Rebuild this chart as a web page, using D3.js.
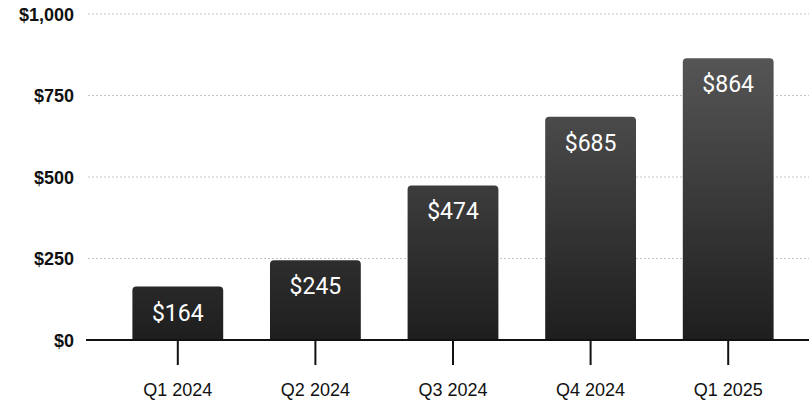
<!DOCTYPE html>
<html>
<head>
<meta charset="utf-8">
<script src="https://cdn.jsdelivr.net/npm/d3@7"></script>
<style>
  body { margin: 0; background: #fff; }
  svg { display: block; }
</style>
</head>
<body>
<div id="chart"></div>
<script>
// Quarterly values
const quarters = ['Q1 2024', 'Q2 2024', 'Q3 2024', 'Q4 2024', 'Q1 2025'];
const revenue = [164, 245, 474, 685, 864];
const yTicks = [0, 250, 500, 750, 1000];

const width = 809;
const height = 404;

const svg = d3.select('#chart')
    .append('svg')
    .attr('width', width)
    .attr('height', height);

const x = d3.scaleBand()
    .domain(quarters)
    .range([109, 797])
    .paddingInner(0.34)
    .paddingOuter(0.17);

const y = d3.scaleLinear()
    .domain([0, 1000])
    .range([340, 14]);

// Bar shading: one gradient over the plot, dark at the baseline
const defs = svg.append('defs');
const grad = defs.append('linearGradient')
    .attr('id', 'barFill')
    .attr('gradientUnits', 'userSpaceOnUse')
    .attr('x1', 0).attr('y1', y(1000))
    .attr('x2', 0).attr('y2', y(0));
grad.append('stop').attr('offset', '0%').attr('stop-color', '#5e5e5e');
grad.append('stop').attr('offset', '100%').attr('stop-color', '#1e1e1e');

// Gridlines
svg.append('g')
    .selectAll('line')
    .data(yTicks.filter(d => d > 0))
    .join('line')
    .attr('x1', 88)
    .attr('x2', width)
    .attr('y1', d => y(d))
    .attr('y2', d => y(d))
    .attr('stroke', '#c4c4c4')
    .attr('stroke-width', 1)
    .attr('stroke-dasharray', '2,2');

// Y labels
const yAxis = d3.axisLeft(y)
    .tickValues(yTicks)
    .tickSize(0)
    .tickPadding(0)
    .tickFormat(d => '$' + d3.format(',')(d));

svg.append('g')
    .attr('transform', 'translate(74,0)')
    .call(yAxis)
    .call(g => g.select('.domain').remove())
    .selectAll('text')
    .attr('font-family', 'Liberation Sans, Arial, sans-serif')
    .attr('font-size', '18px')
    .attr('font-weight', 'bold')
    .attr('fill', '#111')
    .attr('dy', '0.35em');

const rows = quarters.map((q, i) => ({ q, v: revenue[i] }));

// Bars with rounded top corners
const r = 4;
svg.append('g')
    .selectAll('path')
    .data(rows)
    .join('path')
    .attr('fill', 'url(#barFill)')
    .attr('d', d => {
        const x0 = x(d.q), w = x.bandwidth();
        const y0 = y(d.v), y1 = y(0);
        return `M${x0},${y1}V${y0 + r}Q${x0},${y0} ${x0 + r},${y0}` +
            `H${x0 + w - r}Q${x0 + w},${y0} ${x0 + w},${y0 + r}V${y1}Z`;
    });

// Value labels inside bars
svg.append('g')
    .selectAll('text')
    .data(rows)
    .join('text')
    .attr('x', d => x(d.q) + x.bandwidth() / 2)
    .attr('y', d => y(d.v) + 34)
    .attr('text-anchor', 'middle')
    .attr('font-family', 'Roboto, sans-serif')
    .attr('font-size', '23px')
    .attr('fill', '#fff')
    .text(d => '$' + d.v);

// X axis
const xAxis = d3.axisBottom(x)
    .tickSize(25)
    .tickPadding(18)
    .tickSizeOuter(0);

svg.append('g')
    .attr('transform', `translate(0,${y(0)})`)
    .call(xAxis)
    .call(g => g.select('.domain').remove())
    .call(g => g.selectAll('.tick line').attr('stroke', '#111').attr('stroke-width', 2))
    .selectAll('text')
    .attr('font-family', 'Liberation Sans, Arial, sans-serif')
    .attr('font-size', '18px')
    .attr('fill', '#111');

// Baseline
svg.append('line')
    .attr('x1', 86)
    .attr('x2', width)
    .attr('y1', y(0))
    .attr('y2', y(0))
    .attr('stroke', '#111')
    .attr('stroke-width', 2);
</script>
</body>
</html>
